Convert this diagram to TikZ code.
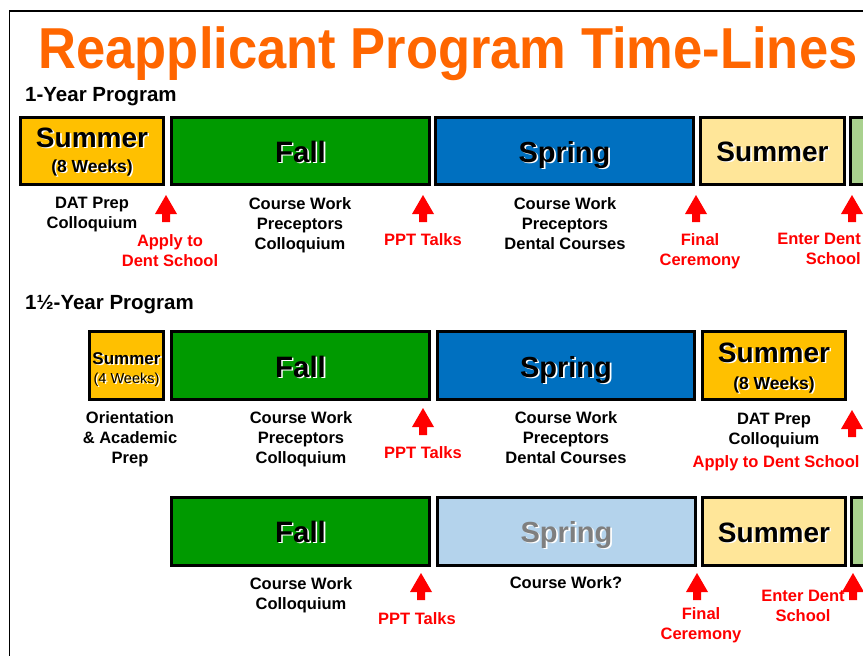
\documentclass[tikz,border=0pt]{standalone}
\usepackage{graphicx}
\usepackage{fontspec}
\setmainfont{Liberation Sans}
\definecolor{titleor}{HTML}{FF6600}
\definecolor{boxor}{HTML}{FFC000}
\definecolor{boxgr}{HTML}{009A00}
\definecolor{boxbl}{HTML}{0070C0}
\definecolor{boxtan}{HTML}{FFE699}
\definecolor{boxlg}{HTML}{A9D18E}
\definecolor{boxlb}{HTML}{B4D3EC}
\definecolor{greytxt}{HTML}{7F7F7F}
\definecolor{redtxt}{HTML}{FF0000}
\newcommand\shlabel[6]{% name, x, y, font, text, colour
  \node[font=#4, text=white, anchor=base, inner sep=0] (#1w) at (#2+1.6,#3+1.6) {#5};
  \node[font=#4, text=#6, anchor=base, inner sep=0] (#1) at (#2,#3) {#5};}
\begin{document}
\begin{tikzpicture}[x=1pt,y=-1pt,
  period/.style={draw=black, line width=3pt, inner sep=0, minimum height=67},
  blk/.style={font=\bfseries\fontsize{16.5}{20}\selectfont, align=center, inner sep=0, anchor=north},
  redblk/.style={blk, text=redtxt},
  heading/.style={font=\bfseries\fontsize{20.5}{24}\selectfont, anchor=base west, inner sep=0},
  uparr/.pic={\fill[redtxt] (0,0) -- (11,19) -- (4,19) -- (4,27) -- (-4,27) -- (-4,19) -- (-11,19) -- cycle;}
]
\useasboundingbox (0,0) rectangle (863,656);
\clip (0,0) rectangle (863,656);
\fill[white] (0,0) rectangle (863,656);
\draw[line width=1.6pt] (9.5,660) -- (9.5,11) -- (870,11);

% title
\node[font=\bfseries\fontsize{52.5}{56}\selectfont, text=titleor, anchor=base, inner sep=0] (title) at (448,68) {\scalebox{1}[1.1]{Reapplicant Program Time-Lines}};

\node[heading] (h1) at (25,101) {1-Year Program};
\node[heading] (h2) at (25,309) {1½-Year Program};

% ---------- row 1
\node[period, fill=boxor, minimum width=143] (s1) at (92,151) {};
\node[period, fill=boxgr, minimum width=258] (f1) at (300.5,151) {};
\node[period, fill=boxbl, minimum width=258] (p1) at (564.5,151) {};
\node[period, fill=boxtan, minimum width=144] (u1) at (772.5,151) {};
\node[period, fill=boxlg, minimum width=48] (g1) at (874.5,151) {};
\shlabel{s1t}{92}{147}{\bfseries\fontsize{28}{30}\selectfont}{Summer}{black}
\shlabel{s1w}{92}{172}{\bfseries\fontsize{17.5}{20}\selectfont}{(8 Weeks)}{black}
\shlabel{f1t}{300.5}{162}{\bfseries\fontsize{29.5}{30}\selectfont}{Fall}{black}
\shlabel{p1t}{564.5}{162}{\bfseries\fontsize{29}{30}\selectfont}{Spring}{black}
\shlabel{u1t}{772.5}{161}{\bfseries\fontsize{28}{30}\selectfont}{Summer}{black}

\node[blk] (l1a) at (92,197) {DAT Prep\\Colloquium};
\node[blk] (l1b) at (300,197) {Course Work\\Preceptors\\Colloquium};
\node[blk] (l1c) at (565,197) {Course Work\\Preceptors\\Dental Courses};
\pic (a1a) at (166,195) {uparr};
\pic (a1b) at (423,195) {uparr};
\pic (a1c) at (696,195) {uparr};
\pic (a1d) at (852,195) {uparr};
\node[redblk] (r1a) at (170,234) {Apply to\\Dent School};
\node[redblk] (r1b) at (423,233) {PPT Talks};
\node[redblk] (r1c) at (700,233) {Final\\Ceremony};
\node[redblk, align=right, anchor=north east] (r1d) at (861,233) {Enter Dent\\School};

% ---------- row 2
\node[period, fill=boxor, minimum width=74, minimum height=68] (s2) at (126.5,365.5) {};
\node[period, fill=boxgr, minimum width=258, minimum height=68] (f2) at (300.5,365.5) {};
\node[period, fill=boxbl, minimum width=257, minimum height=68] (p2) at (566,365.5) {};
\node[period, fill=boxor, minimum width=143, minimum height=68] (u2) at (774,365.5) {};
\shlabel{s2t}{126.5}{364}{\bfseries\fontsize{17}{20}\selectfont}{Summer}{black}
\shlabel{s2w}{126.5}{383}{\fontsize{14.5}{17}\selectfont}{(4 Weeks)}{black}
\shlabel{f2t}{300.5}{377}{\bfseries\fontsize{29.5}{30}\selectfont}{Fall}{black}
\shlabel{p2t}{566}{377}{\bfseries\fontsize{29}{30}\selectfont}{Spring}{black}
\shlabel{u2t}{774}{362}{\bfseries\fontsize{28}{30}\selectfont}{Summer}{black}
\shlabel{u2w}{774}{389}{\bfseries\fontsize{17.5}{20}\selectfont}{(8 Weeks)}{black}

\node[blk] (l2a) at (130,411) {Orientation\\\& Academic\\Prep};
\node[blk] (l2b) at (301,411) {Course Work\\Preceptors\\Colloquium};
\node[blk] (l2c) at (566,411) {Course Work\\Preceptors\\Dental Courses};
\node[blk] (l2d) at (774,413) {DAT Prep\\Colloquium};
\pic (a2a) at (423,408) {uparr};
\pic (a2b) at (852,410) {uparr};
\node[redblk] (r2a) at (423,446) {PPT Talks};
\node[redblk] (r2b) at (776,455) {Apply to Dent School};

% ---------- row 3
\node[period, fill=boxgr, minimum width=258, minimum height=68] (f3) at (300.5,531.5) {};
\node[period, fill=boxlb, minimum width=258, minimum height=68] (p3) at (566.5,531.5) {};
\node[period, fill=boxtan, minimum width=143, minimum height=68] (u3) at (774,531.5) {};
\node[period, fill=boxlg, minimum width=47, minimum height=68] (g3) at (875,531.5) {};
\shlabel{f3t}{300.5}{542}{\bfseries\fontsize{29.5}{30}\selectfont}{Fall}{black}
\shlabel{p3t}{566.5}{542}{\bfseries\fontsize{29}{30}\selectfont}{Spring}{greytxt}
\shlabel{u3t}{774}{542}{\bfseries\fontsize{28}{30}\selectfont}{Summer}{black}

\node[blk] (l3a) at (301,577) {Course Work\\Colloquium};
\node[blk] (l3b) at (566,576) {Course Work?};
\pic (a3a) at (421,573) {uparr};
\pic (a3b) at (697,573) {uparr};
\pic (a3c) at (853,573) {uparr};
\node[redblk] (r3a) at (417,612) {PPT Talks};
\node[redblk] (r3b) at (701,607) {Final\\Ceremony};
\node[redblk] (r3c) at (803,590) {Enter Dent\\School};
\end{tikzpicture}
\end{document}
